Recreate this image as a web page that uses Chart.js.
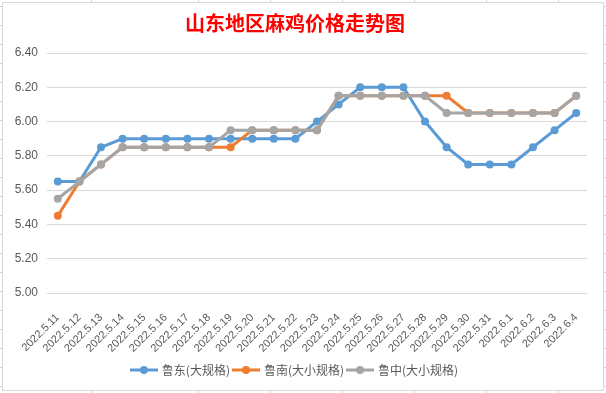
<!DOCTYPE html>
<html lang="zh">
<head>
    <meta charset="UTF-8">
    <title>山东地区麻鸡价格走势图</title>
    <script src="https://cdn.jsdelivr.net/npm/chart.js"></script>
    <style>
        body {
            margin: 0;
            width: 606px;
            height: 393px;
            overflow: hidden;
            position: relative;
            background-color: #fff;
            background-image: repeating-linear-gradient(to bottom, transparent 0, transparent 6px, #d4d4d4 6px, #d4d4d4 7px, transparent 7px, transparent 19px);
        }

        .col {
            position: absolute;
            top: 0;
            width: 1px;
            height: 393px;
            background: #d4d4d4;
        }

        #box {
            position: absolute;
            left: 2px;
            top: 2px;
            width: 602px;
            height: 389px;
            box-sizing: border-box;
            border: 1px solid #d9d9d9;
            background: #fff;
        }
    </style>
</head>
<body>
    <div class="col" style="left:91px"></div>
    <div class="col" style="left:198px"></div>
    <div class="col" style="left:270px"></div>
    <div class="col" style="left:342px"></div>
    <div class="col" style="left:414px"></div>
    <div class="col" style="left:486px"></div>
    <div class="col" style="left:558px"></div>

    <div id="box">
        <canvas id="priceChart"></canvas>
    </div>

    <script>
        const dates = ['2022.5.11', '2022.5.12', '2022.5.13', '2022.5.14', '2022.5.15', '2022.5.16', '2022.5.17',
            '2022.5.18', '2022.5.19', '2022.5.20', '2022.5.21', '2022.5.22', '2022.5.23', '2022.5.24', '2022.5.25',
            '2022.5.26', '2022.5.27', '2022.5.28', '2022.5.29', '2022.5.30', '2022.5.31', '2022.6.1', '2022.6.2',
            '2022.6.3', '2022.6.4'];

        // 鲁东(大规格)
        const ludong = [5.65, 5.65, 5.85, 5.90, 5.90, 5.90, 5.90, 5.90, 5.90, 5.90, 5.90, 5.90, 6.00,
            6.10, 6.20, 6.20, 6.20, 6.00, 5.85, 5.75, 5.75, 5.75, 5.85, 5.95, 6.05];
        // 鲁南(大小规格)
        const lunan = [5.45, 5.65, 5.75, 5.85, 5.85, 5.85, 5.85, 5.85, 5.85, 5.95, 5.95, 5.95, 5.95,
            6.15, 6.15, 6.15, 6.15, 6.15, 6.15, 6.05, 6.05, 6.05, 6.05, 6.05, 6.15];
        // 鲁中(大小规格)
        const luzhong = [5.55, 5.65, 5.75, 5.85, 5.85, 5.85, 5.85, 5.85, 5.95, 5.95, 5.95, 5.95, 5.95,
            6.15, 6.15, 6.15, 6.15, 6.15, 6.05, 6.05, 6.05, 6.05, 6.05, 6.05, 6.15];

        const seriesNames = ['鲁东(大规格)', '鲁南(大小规格)', '鲁中(大小规格)'];
        const colors = ['#5B9BD5', '#ED7D31', '#A5A5A5'];
        const yMin = 5.0, yMax = 6.4, yStep = 0.2;

        function legendIcon(color) {
            const c = document.createElement('canvas');
            c.width = 28;
            c.height = 10;
            const g = c.getContext('2d');
            g.strokeStyle = color;
            g.lineWidth = 3;
            g.beginPath();
            g.moveTo(0, 5);
            g.lineTo(28, 5);
            g.stroke();
            g.fillStyle = color;
            g.beginPath();
            g.arc(14, 5, 4, 0, Math.PI * 2);
            g.fill();
            return c;
        }

        function makeSeries(i, values) {
            return {
                label: seriesNames[i],
                data: values,
                borderColor: colors[i],
                backgroundColor: colors[i],
                pointBackgroundColor: colors[i],
                borderWidth: 3,
                pointRadius: 4,
                pointBorderWidth: 0,
                tension: 0,
                // excel draws later series on top
                order: 3 - i
            };
        }

        const tickColor = '#595959';

        new Chart(document.getElementById('priceChart'), {
            type: 'line',
            data: {
                labels: dates,
                datasets: [makeSeries(0, ludong), makeSeries(1, lunan), makeSeries(2, luzhong)]
            },
            options: {
                responsive: true,
                maintainAspectRatio: false,
                animation: false,
                layout: { padding: { left: 0, right: 16, top: 0, bottom: 4 } },
                plugins: {
                    title: {
                        display: true,
                        text: '山东地区麻鸡价格走势图',
                        color: '#FF0000',
                        font: { family: 'Noto Sans CJK SC', size: 20, weight: 'bold' },
                        padding: { top: 8, bottom: 18 }
                    },
                    legend: {
                        position: 'bottom',
                        reverse: true,
                        labels: {
                            usePointStyle: true,
                            pointStyleWidth: 24,
                            padding: 4,
                            color: tickColor,
                            font: { family: 'Noto Sans CJK SC', size: 12 },
                            generateLabels(chart) {
                                const items = Chart.defaults.plugins.legend.labels.generateLabels(chart);
                                items.forEach(it => { it.pointStyle = legendIcon(colors[it.datasetIndex]); });
                                return items;
                            }
                        }
                    },
                    tooltip: { enabled: false }
                },
                scales: {
                    x: {
                        offset: true,
                        grid: { display: false },
                        border: { display: false },
                        ticks: {
                            color: tickColor,
                            font: { family: 'Liberation Sans', size: 11 },
                            minRotation: 45,
                            maxRotation: 45,
                            autoSkip: false,
                            padding: 10
                        },
                        afterFit(scale) { scale.height = 67; }
                    },
                    y: {
                        min: yMin,
                        max: yMax,
                        grid: { color: '#d9d9d9', drawTicks: false },
                        border: { display: false },
                        ticks: {
                            stepSize: yStep,
                            color: tickColor,
                            font: { family: 'Liberation Sans', size: 12 },
                            padding: 9,
                            callback: v => v.toFixed(2)
                        },
                        afterFit(scale) { scale.width = 44; }
                    }
                }
            }
        });
    </script>
</body>
</html>
